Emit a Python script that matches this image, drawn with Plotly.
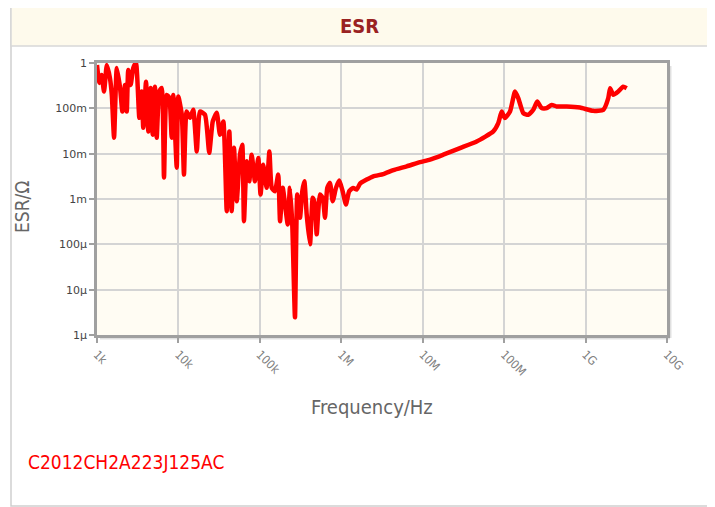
import plotly.graph_objects as go

# ---- data ----
freq_hz = [
    1.00e3, 1.07e3, 1.14e3, 1.22e3, 1.32e3, 1.44e3, 1.52e3, 1.62e3, 1.75e3, 1.92e3,
    2.05e3, 2.21e3, 2.32e3, 2.42e3, 2.59e3, 2.79e3, 3.01e3, 3.31e3, 3.54e3, 3.70e3,
    4.00e3, 4.27e3, 4.56e3, 4.83e3, 5.15e3, 5.41e3, 5.82e3, 6.23e3, 6.65e3, 7.18e3,
    7.73e3, 8.26e3, 8.65e3, 9.53e3, 9.96e3, 1.10e4, 1.17e4, 1.26e4, 1.39e4, 1.52e4,
    1.68e4, 1.84e4, 2.12e4, 2.39e4, 2.64e4, 2.95e4, 3.24e4, 3.56e4, 3.92e4, 4.22e4,
    4.51e4, 4.81e4, 5.20e4, 5.70e4, 6.08e4, 6.38e4, 6.89e4, 7.41e4, 7.94e4, 8.71e4,
    9.57e4, 1.02e5, 1.10e5, 1.21e5, 1.31e5, 1.40e5, 1.53e5, 1.68e5, 1.77e5, 1.91e5,
    2.04e5, 2.20e5, 2.34e5, 2.50e5, 2.70e5, 2.88e5, 3.11e5, 3.32e5, 3.52e5, 3.76e5,
    4.13e5, 4.46e5, 4.75e5, 4.99e5, 5.48e5, 5.92e5, 6.31e5, 6.73e5, 7.26e5, 7.85e5,
    8.61e5, 9.46e5, 1.04e6, 1.14e6, 1.25e6, 1.40e6, 1.55e6, 1.70e6, 2.05e6, 2.47e6,
    3.28e6, 4.36e6, 6.36e6, 9.27e6, 1.23e7, 1.79e7, 2.87e7, 4.60e7, 7.36e7, 8.47e7,
    9.33e7, 1.02e8, 1.18e8, 1.36e8, 1.49e8, 1.72e8, 1.98e8, 2.28e8, 2.55e8, 2.89e8,
    3.33e8, 3.84e8, 4.42e8, 5.86e8, 8.53e8, 1.24e9, 1.65e9, 1.90e9, 2.00e9, 2.19e9,
    2.52e9, 2.90e9, 3.20e9,
]
esr_ohm = [
    0.90, 0.363, 0.545, 0.234, 0.90, 0.468, 0.198, 0.0225, 0.776, 0.282,
    0.085, 0.328, 0.085, 0.70, 0.328, 0.776, 1.0, 0.0618, 0.234, 0.0373,
    0.388, 0.031, 0.282, 0.0262, 0.301, 0.0225, 0.234, 0.282, 0.00297, 0.198,
    0.170, 0.0225, 0.198, 0.00492, 0.182, 0.072, 0.00345, 0.085, 0.0618, 0.0927,
    0.0112, 0.085, 0.072, 0.0105, 0.0513, 0.0796, 0.0262, 0.0513, 5.4e-4, 0.031,
    5.4e-4, 0.01355, 8.95e-4, 0.0095, 0.0158, 3.25e-4, 0.00678, 0.00246, 0.0095, 0.00246,
    0.00804, 0.00126, 0.00573, 0.00176, 0.0112, 0.00176, 0.00148, 0.00345, 3.25e-4, 0.00176,
    7.57e-4, 2.75e-4, 0.00176, 2.75e-4, 2.45e-6, 0.00126, 3.86e-4, 0.00148, 0.00246, 4.56e-4,
    1.0e-4, 0.00106, 7.57e-4, 1.66e-4, 0.00126, 0.00106, 3.86e-4, 0.00176, 0.00227, 8.95e-4,
    0.00176, 0.00255, 0.00148, 7.57e-4, 0.00148, 0.00176, 0.00162, 0.00219, 0.00268, 0.00317,
    0.00354, 0.00434, 0.00526, 0.0065, 0.00738, 0.0095, 0.0133, 0.0186, 0.031, 0.0473,
    0.085, 0.061, 0.085, 0.234, 0.168, 0.0785, 0.072, 0.0927, 0.141, 0.101,
    0.101, 0.119, 0.110, 0.110, 0.104, 0.088, 0.0927, 0.168, 0.278, 0.198,
    0.234, 0.301, 0.278,
]

x_tick_vals = [1e3, 1e4, 1e5, 1e6, 1e7, 1e8, 1e9, 1e10]
x_tick_text = ["1k", "10k", "100k", "1M", "10M", "100M", "1G", "10G"]
y_tick_vals = [1e-6, 1e-5, 1e-4, 1e-3, 1e-2, 1e-1, 1]
y_tick_text = ["1µ", "10µ", "100µ", "1m", "10m", "100m", "1"]

title_text = "ESR"
x_title = "Frequency/Hz"
y_title = "ESR/Ω"
part_number = "C2012CH2A223J125AC"

# ---- geometry (page pixels; the page body adds an 8px margin) ----
OFF = 8
W, H = 715 - OFF, 507 - OFF
PLOT_X0, PLOT_X1, PLOT_Y0, PLOT_Y1 = 97, 667, 63, 335  # page pixels
L, R = PLOT_X0 - OFF, W - (PLOT_X1 - OFF)
T, B = PLOT_Y0 - OFF, H - (PLOT_Y1 - OFF)
PW, PH = PLOT_X1 - PLOT_X0, PLOT_Y1 - PLOT_Y0
FONT = "DejaVu Sans"
FONT_C = "DejaVu Sans Condensed, DejaVu Sans"


def px(xp):
    return (xp - PLOT_X0) / PW


def py(yp):
    return (PLOT_Y1 - yp) / PH


# shadow offset (pixels) expressed as domain fractions
dx = 2.5 / PW
dy = 2.5 / PH

fig = go.Figure()

# shadow of the curve (drawn on shifted, hidden axes)
fig.add_trace(go.Scatter(
    x=freq_hz, y=esr_ohm, mode="lines", xaxis="x", yaxis="y",
    line=dict(color="rgba(0,0,0,0.16)", width=4.5, shape="spline", smoothing=0.5),
    hoverinfo="skip", showlegend=False,
))
# main curve
fig.add_trace(go.Scatter(
    x=freq_hz, y=esr_ohm, mode="lines", xaxis="x2", yaxis="y2",
    line=dict(color="#ff0000", width=4.5, shape="spline", smoothing=0.5),
    showlegend=False,
))

fig.update_layout(
    width=W, height=H,
    margin=dict(l=L, r=R, t=T, b=B),
    paper_bgcolor="white",
    plot_bgcolor="#fffcf3",
    font=dict(family=FONT, color="#555"),
    xaxis=dict(type="log", domain=[dx, 1], range=[3, 10 - 7 * dx], visible=False,
               fixedrange=True),
    yaxis=dict(type="log", domain=[0, 1 - dy], range=[-6 + 6 * dy, 0], visible=False,
               fixedrange=True),
    xaxis2=dict(
        type="log", domain=[0, 1], range=[3, 10], anchor="y2",
        tickvals=x_tick_vals, ticktext=x_tick_text, tickangle=45,
        tickfont=dict(size=12, color="#808080", family=FONT_C),
        showgrid=True, gridcolor="#d4d4d4", gridwidth=1.5,
        showline=True, linecolor="#a0a0a0", linewidth=2.5, mirror=True,
        ticks="outside", ticklen=5, tickcolor="#a0a0a0", tickwidth=1.5,
        zeroline=False,
    ),
    yaxis2=dict(
        type="log", domain=[0, 1], range=[-6, 0], anchor="x2",
        tickvals=y_tick_vals, ticktext=y_tick_text,
        tickfont=dict(size=11, color="#444", family=FONT),
        showgrid=True, gridcolor="#d4d4d4", gridwidth=1.5,
        showline=True, linecolor="#a0a0a0", linewidth=2.5, mirror=True,
        ticks="outside", ticklen=5, tickcolor="#a0a0a0", tickwidth=1.5,
        zeroline=False,
    ),
    shapes=[
        # outer panel border
        dict(type="rect", xref="paper", yref="paper", layer="below",
             x0=px(11), x1=px(708), y0=py(506), y1=py(5),
             line=dict(color="#cfcfcf", width=1.5), fillcolor="rgba(0,0,0,0)"),
        # header band
        dict(type="rect", xref="paper", yref="paper", layer="below",
             x0=px(11), x1=px(708), y0=py(46), y1=py(5),
             line=dict(color="#d8d8d8", width=1.5), fillcolor="#fefaec"),
        # plot frame shadow (right and bottom)
        dict(type="line", xref="paper", yref="paper", layer="below",
             x0=px(670), x1=px(670), y0=py(338), y1=py(66),
             line=dict(color="rgba(0,0,0,0.12)", width=3)),
        dict(type="line", xref="paper", yref="paper", layer="below",
             x0=px(100), x1=px(670), y0=py(338), y1=py(338),
             line=dict(color="rgba(0,0,0,0.12)", width=3)),
    ],
    annotations=[
        dict(text=f"<b>{title_text}</b>", xref="paper", yref="paper",
             x=px(359), y=py(26), xanchor="center", yanchor="middle", showarrow=False,
             font=dict(size=20, color="#9a2222", family=FONT_C)),
        dict(text=y_title, xref="paper", yref="paper", x=px(22), y=py(207),
             xanchor="center", yanchor="middle", textangle=-90, showarrow=False,
             font=dict(size=19, color="#666", family=FONT_C)),
        dict(text=x_title, xref="paper", yref="paper", x=px(372), y=py(407),
             xanchor="center", yanchor="middle",
             showarrow=False, font=dict(size=20, color="#666", family=FONT_C)),
        dict(text=part_number, xref="paper", yref="paper", x=px(26), y=py(462),
             xanchor="left", yanchor="middle", showarrow=False,
             font=dict(size=19, color="#ff0000", family=FONT_C)),
    ],
)

fig.write_html("out.html")
